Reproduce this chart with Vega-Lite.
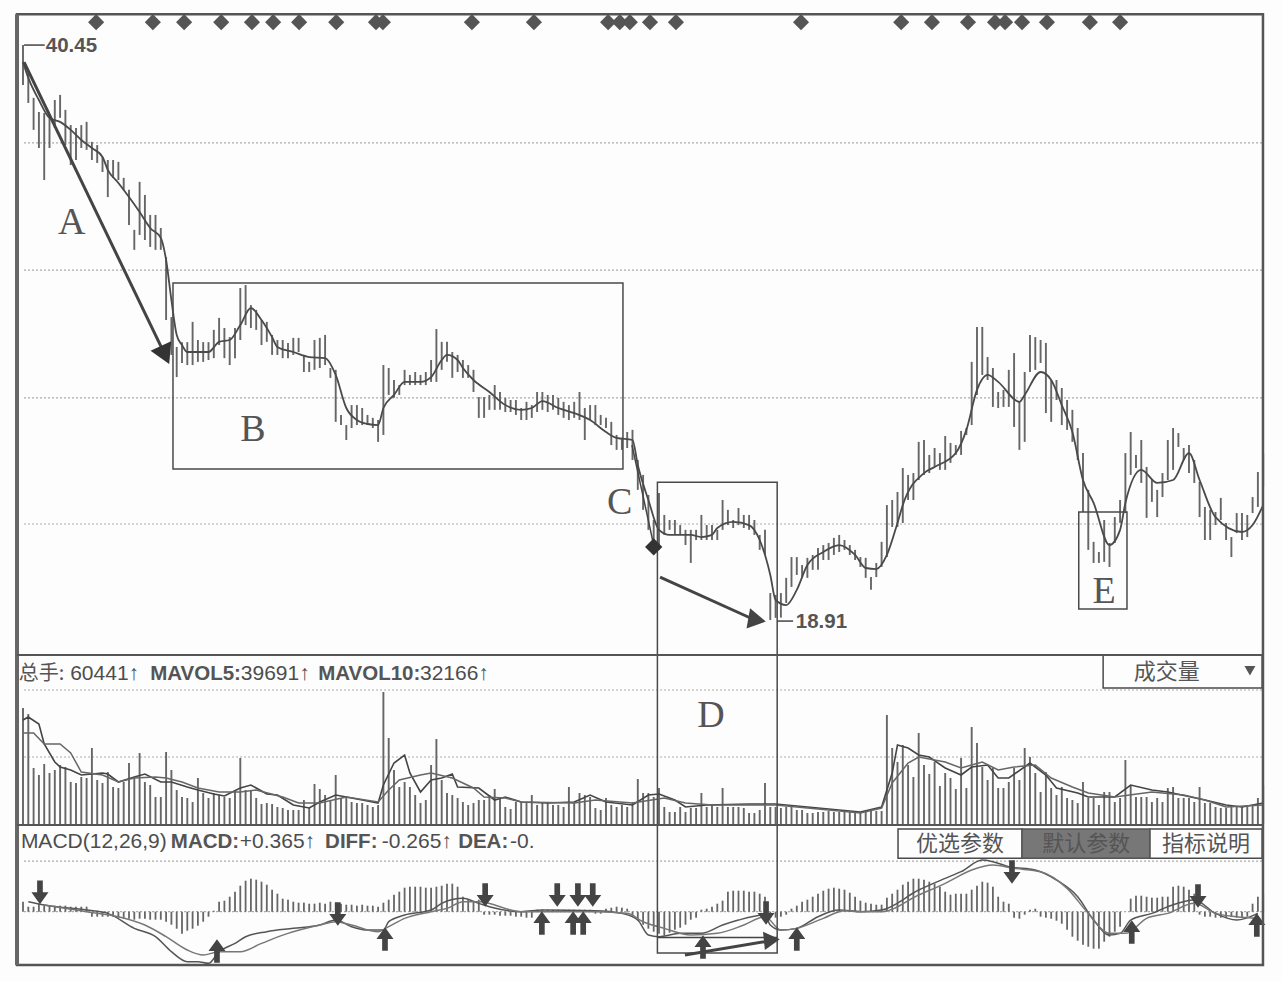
{"$schema":"https://vega.github.io/schema/vega-lite/v6.json","autosize":{"type":"fit","contains":"padding"},"padding":0,"width":1282,"height":982,"background":"#fdfdfd","config":{"view":{"stroke":null}},
"datasets":{
"bars":[
{"d":0,"h":40.45,"l":38.95,"v":232,"m":0.3},{"d":1,"h":39.44,"l":38.28,"v":220,"m":0.15},{"d":2,"h":38.47,"l":37.27,"v":112,"m":0.15},{"d":3,"h":37.94,"l":36.59,"v":98,"m":0.24},{"d":4,"h":37.9,"l":35.39,"v":120,"m":0.18},{"d":5,"h":37.72,"l":36.59,"v":102,"m":0.18},{"d":6,"h":38.39,"l":37.34,"v":108,"m":0.18},{"d":7,"h":38.58,"l":37.72,"v":118,"m":0.18},{"d":8,"h":38.02,"l":36.7,"v":114,"m":0.18},{"d":9,"h":37.45,"l":35.95,"v":84,"m":0.15},
{"d":10,"h":37.34,"l":36.14,"v":82,"m":0.15},{"d":11,"h":37.45,"l":36.59,"v":94,"m":0.15},{"d":12,"h":37.57,"l":36.52,"v":92,"m":0.15},{"d":13,"h":36.82,"l":36.14,"v":152,"m":-0.15},{"d":14,"h":36.7,"l":36.03,"v":88,"m":-0.15},{"d":15,"h":36.25,"l":35.69,"v":82,"m":-0.15},{"d":16,"h":36.14,"l":34.75,"v":104,"m":-0.15},{"d":17,"h":36.14,"l":35.47,"v":74,"m":-0.15},{"d":18,"h":36.07,"l":35.39,"v":72,"m":-0.18},{"d":19,"h":35.47,"l":35.02,"v":84,"m":-0.21},
{"d":20,"h":35.02,"l":33.7,"v":122,"m":-0.21},{"d":21,"h":33.52,"l":32.77,"v":94,"m":-0.24},{"d":22,"h":35.32,"l":33.33,"v":142,"m":-0.21},{"d":23,"h":34.83,"l":33.14,"v":84,"m":-0.21},{"d":24,"h":34.08,"l":32.88,"v":78,"m":-0.24},{"d":25,"h":34.08,"l":32.77,"v":54,"m":-0.24},{"d":26,"h":33.59,"l":32.77,"v":54,"m":-0.24},{"d":27,"h":32.5,"l":30.14,"v":144,"m":-0.3},{"d":28,"h":30.25,"l":28.83,"v":108,"m":-0.39},{"d":29,"h":29.13,"l":28.0,"v":68,"m":-0.51},
{"d":30,"h":29.31,"l":28.53,"v":54,"m":-0.66},{"d":31,"h":29.31,"l":28.45,"v":52,"m":-0.57},{"d":32,"h":30.07,"l":28.45,"v":44,"m":-0.51},{"d":33,"h":29.39,"l":28.57,"v":92,"m":-0.42},{"d":34,"h":29.31,"l":28.57,"v":62,"m":-0.3},{"d":35,"h":29.31,"l":28.64,"v":52,"m":-0.15},{"d":36,"h":29.77,"l":28.71,"v":62,"m":0.03},{"d":37,"h":30.22,"l":29.2,"v":58,"m":0.3},{"d":38,"h":29.84,"l":28.71,"v":54,"m":0.33},{"d":39,"h":29.5,"l":28.45,"v":52,"m":0.45},
{"d":40,"h":29.84,"l":28.71,"v":68,"m":0.6},{"d":41,"h":31.34,"l":29.39,"v":132,"m":0.78},{"d":42,"h":31.45,"l":29.95,"v":68,"m":0.93},{"d":43,"h":30.7,"l":29.84,"v":68,"m":0.99},{"d":44,"h":30.52,"l":29.77,"v":52,"m":0.96},{"d":45,"h":30.14,"l":29.2,"v":40,"m":0.9},{"d":46,"h":30.07,"l":29.32,"v":42,"m":0.81},{"d":47,"h":29.58,"l":28.83,"v":40,"m":0.66},{"d":48,"h":29.39,"l":28.83,"v":34,"m":0.54},{"d":49,"h":29.39,"l":28.71,"v":32,"m":0.39},
{"d":50,"h":29.28,"l":28.71,"v":28,"m":0.36},{"d":51,"h":29.47,"l":28.83,"v":28,"m":0.3},{"d":52,"h":29.47,"l":28.94,"v":28,"m":0.27},{"d":53,"h":28.83,"l":28.19,"v":48,"m":0.27},{"d":54,"h":28.57,"l":28.19,"v":32,"m":0.24},{"d":55,"h":29.39,"l":28.27,"v":80,"m":0.24},{"d":56,"h":29.47,"l":28.34,"v":70,"m":0.27},{"d":57,"h":29.58,"l":28.45,"v":58,"m":0.24},{"d":58,"h":28.34,"l":27.97,"v":48,"m":0.3},{"d":59,"h":28.27,"l":26.32,"v":98,"m":0.27},
{"d":60,"h":26.58,"l":26.2,"v":52,"m":0.24},{"d":61,"h":26.2,"l":25.64,"v":54,"m":0.21},{"d":62,"h":26.95,"l":26.09,"v":44,"m":0.21},{"d":63,"h":26.95,"l":26.2,"v":42,"m":0.18},{"d":64,"h":26.84,"l":26.2,"v":42,"m":0.21},{"d":65,"h":26.58,"l":26.2,"v":38,"m":0.18},{"d":66,"h":26.47,"l":26.09,"v":34,"m":0.18},{"d":67,"h":26.39,"l":25.57,"v":38,"m":0.15},{"d":68,"h":28.45,"l":25.83,"v":264,"m":0.27},{"d":69,"h":28.34,"l":27.33,"v":172,"m":0.36},
{"d":70,"h":27.89,"l":27.22,"v":108,"m":0.51},{"d":71,"h":27.7,"l":27.33,"v":74,"m":0.6},{"d":72,"h":28.27,"l":27.7,"v":84,"m":0.72},{"d":73,"h":28.08,"l":27.7,"v":74,"m":0.75},{"d":74,"h":28.19,"l":27.7,"v":58,"m":0.75},{"d":75,"h":28.08,"l":27.7,"v":42,"m":0.75},{"d":76,"h":28.19,"l":27.7,"v":48,"m":0.72},{"d":77,"h":28.64,"l":27.82,"v":118,"m":0.72},{"d":78,"h":29.8,"l":27.82,"v":170,"m":0.75},{"d":79,"h":29.32,"l":28.27,"v":88,"m":0.78},
{"d":80,"h":29.32,"l":28.57,"v":62,"m":0.84},{"d":81,"h":28.94,"l":27.97,"v":58,"m":0.84},{"d":82,"h":28.83,"l":28.19,"v":52,"m":0.75},{"d":83,"h":28.64,"l":27.97,"v":44,"m":0.45},{"d":84,"h":28.45,"l":27.97,"v":38,"m":0.36},{"d":85,"h":28.27,"l":27.44,"v":42,"m":0.33},{"d":86,"h":27.25,"l":26.47,"v":48,"m":0.36},{"d":87,"h":27.25,"l":26.47,"v":48,"m":-0.09},{"d":88,"h":27.33,"l":26.77,"v":58,"m":-0.09},{"d":89,"h":27.7,"l":26.77,"v":70,"m":-0.09},
{"d":90,"h":27.44,"l":26.77,"v":52,"m":-0.12},{"d":91,"h":27.22,"l":26.69,"v":34,"m":-0.12},{"d":92,"h":27.14,"l":26.69,"v":30,"m":-0.12},{"d":93,"h":27.14,"l":26.58,"v":44,"m":-0.15},{"d":94,"h":26.84,"l":26.39,"v":44,"m":-0.15},{"d":95,"h":27.07,"l":26.39,"v":42,"m":-0.18},{"d":96,"h":26.95,"l":26.47,"v":58,"m":-0.18},{"d":97,"h":27.44,"l":26.69,"v":38,"m":0.06},{"d":98,"h":27.44,"l":26.77,"v":42,"m":0.06},{"d":99,"h":27.33,"l":26.69,"v":42,"m":0.06},
{"d":100,"h":27.33,"l":26.77,"v":38,"m":0.06},{"d":101,"h":27.22,"l":26.58,"v":38,"m":0.06},{"d":102,"h":27.07,"l":26.47,"v":34,"m":0.06},{"d":103,"h":26.95,"l":26.39,"v":74,"m":0.06},{"d":104,"h":27.07,"l":26.47,"v":42,"m":0.06},{"d":105,"h":27.44,"l":26.39,"v":62,"m":0.06},{"d":106,"h":26.84,"l":25.64,"v":58,"m":0.06},{"d":107,"h":26.95,"l":26.39,"v":54,"m":0.06},{"d":108,"h":26.95,"l":26.2,"v":32,"m":-0.06},{"d":109,"h":26.58,"l":26.2,"v":28,"m":-0.06},
{"d":110,"h":26.47,"l":26.09,"v":52,"m":0.09},{"d":111,"h":26.32,"l":25.45,"v":38,"m":0.12},{"d":112,"h":25.83,"l":25.27,"v":34,"m":0.15},{"d":113,"h":25.72,"l":25.27,"v":38,"m":0.12},{"d":114,"h":25.94,"l":25.34,"v":34,"m":0.09},{"d":115,"h":26.02,"l":24.89,"v":44,"m":-0.15},{"d":116,"h":24.89,"l":23.77,"v":90,"m":-0.27},{"d":117,"h":24.33,"l":23.02,"v":62,"m":-0.39},{"d":118,"h":23.58,"l":22.27,"v":62,"m":-0.51},{"d":119,"h":22.64,"l":21.44,"v":54,"m":-0.6},
{"d":120,"h":23.65,"l":21.52,"v":72,"m":-0.66},{"d":121,"h":22.83,"l":22.08,"v":34,"m":-0.72},{"d":122,"h":22.64,"l":22.27,"v":24,"m":-0.63},{"d":123,"h":22.64,"l":22.08,"v":24,"m":-0.54},{"d":124,"h":22.45,"l":22.08,"v":34,"m":-0.48},{"d":125,"h":22.27,"l":21.7,"v":24,"m":-0.39},{"d":126,"h":22.27,"l":21.03,"v":32,"m":-0.24},{"d":127,"h":22.27,"l":21.89,"v":32,"m":-0.18},{"d":128,"h":22.83,"l":21.89,"v":62,"m":0.06},{"d":129,"h":22.45,"l":21.89,"v":34,"m":0.09},
{"d":130,"h":22.45,"l":21.89,"v":38,"m":0.15},{"d":131,"h":22.27,"l":21.89,"v":34,"m":0.24},{"d":132,"h":23.39,"l":22.27,"v":72,"m":0.33},{"d":133,"h":23.02,"l":22.45,"v":34,"m":0.6},{"d":134,"h":22.64,"l":22.34,"v":34,"m":0.63},{"d":135,"h":23.09,"l":22.45,"v":34,"m":0.63},{"d":136,"h":22.83,"l":22.34,"v":32,"m":0.63},{"d":137,"h":22.83,"l":22.27,"v":22,"m":0.6},{"d":138,"h":22.64,"l":22.08,"v":22,"m":0.6},{"d":139,"h":22.08,"l":21.52,"v":28,"m":0.54},
{"d":140,"h":22.27,"l":21.33,"v":82,"m":0.45},{"d":141,"h":19.9,"l":18.89,"v":34,"m":-0.18},{"d":142,"h":19.83,"l":18.97,"v":34,"m":-0.18},{"d":143,"h":19.9,"l":18.98,"v":32,"m":-0.15},{"d":144,"h":20.47,"l":19.53,"v":34,"m":-0.09},{"d":145,"h":21.25,"l":20.13,"v":34,"m":0.09},{"d":146,"h":21.25,"l":20.58,"v":28,"m":0.18},{"d":147,"h":20.95,"l":20.47,"v":28,"m":0.3},{"d":148,"h":21.22,"l":20.47,"v":22,"m":0.36},{"d":149,"h":21.33,"l":20.77,"v":22,"m":0.45},
{"d":150,"h":21.59,"l":20.77,"v":24,"m":0.54},{"d":151,"h":21.7,"l":21.14,"v":24,"m":0.63},{"d":152,"h":21.78,"l":21.14,"v":26,"m":0.69},{"d":153,"h":21.97,"l":21.33,"v":24,"m":0.72},{"d":154,"h":22.08,"l":21.44,"v":24,"m":0.69},{"d":155,"h":21.89,"l":21.52,"v":26,"m":0.66},{"d":156,"h":21.7,"l":21.33,"v":24,"m":0.57},{"d":157,"h":21.52,"l":21.14,"v":24,"m":0.45},{"d":158,"h":21.25,"l":20.88,"v":24,"m":0.33},{"d":159,"h":21.22,"l":20.47,"v":24,"m":0.27},
{"d":160,"h":20.5,"l":20.02,"v":26,"m":0.24},{"d":161,"h":21.03,"l":20.5,"v":26,"m":0.21},{"d":162,"h":21.82,"l":20.88,"v":26,"m":0.21},{"d":163,"h":23.2,"l":21.25,"v":218,"m":0.42},{"d":164,"h":23.39,"l":22.38,"v":152,"m":0.54},{"d":165,"h":23.69,"l":22.38,"v":124,"m":0.66},{"d":166,"h":24.59,"l":22.53,"v":158,"m":0.81},{"d":167,"h":24.33,"l":23.39,"v":118,"m":0.9},{"d":168,"h":24.4,"l":23.39,"v":94,"m":0.99},{"d":169,"h":25.57,"l":24.14,"v":182,"m":0.99},
{"d":170,"h":25.64,"l":24.33,"v":118,"m":0.96},{"d":171,"h":25.08,"l":24.4,"v":100,"m":0.9},{"d":172,"h":25.34,"l":24.63,"v":124,"m":0.84},{"d":173,"h":25.15,"l":24.52,"v":76,"m":0.75},{"d":174,"h":25.79,"l":24.52,"v":102,"m":0.6},{"d":175,"h":25.53,"l":24.78,"v":92,"m":0.51},{"d":176,"h":25.45,"l":25.08,"v":70,"m":0.54},{"d":177,"h":25.98,"l":25.08,"v":132,"m":0.54},{"d":178,"h":26.09,"l":25.83,"v":72,"m":0.54},{"d":179,"h":28.57,"l":26.2,"v":194,"m":0.66},
{"d":180,"h":29.88,"l":27.33,"v":162,"m":0.78},{"d":181,"h":29.88,"l":28.08,"v":114,"m":0.9},{"d":182,"h":28.75,"l":27.89,"v":88,"m":0.87},{"d":183,"h":28.34,"l":26.88,"v":112,"m":0.75},{"d":184,"h":27.44,"l":26.84,"v":72,"m":0.45},{"d":185,"h":27.52,"l":26.88,"v":72,"m":0.3},{"d":186,"h":28.27,"l":26.88,"v":84,"m":0.24},{"d":187,"h":28.9,"l":26.13,"v":112,"m":-0.18},{"d":188,"h":27.07,"l":25.27,"v":88,"m":-0.21},{"d":189,"h":28.19,"l":25.57,"v":152,"m":-0.09},
{"d":190,"h":29.58,"l":28.19,"v":134,"m":0.06},{"d":191,"h":29.5,"l":28.27,"v":102,"m":0.09},{"d":192,"h":29.39,"l":28.53,"v":64,"m":-0.15},{"d":193,"h":29.28,"l":26.65,"v":104,"m":-0.18},{"d":194,"h":27.89,"l":26.32,"v":72,"m":-0.21},{"d":195,"h":27.89,"l":27.14,"v":58,"m":-0.27},{"d":196,"h":27.59,"l":26.2,"v":74,"m":-0.36},{"d":197,"h":27.14,"l":26.02,"v":52,"m":-0.54},{"d":198,"h":26.77,"l":25.57,"v":48,"m":-0.75},{"d":199,"h":26.09,"l":24.89,"v":42,"m":-0.87},
{"d":200,"h":25.15,"l":22.94,"v":84,"m":-0.99},{"d":201,"h":23.77,"l":21.52,"v":52,"m":-1.05},{"d":202,"h":21.82,"l":21.03,"v":52,"m":-1.11},{"d":203,"h":21.44,"l":21.03,"v":38,"m":-1.11},{"d":204,"h":22.64,"l":21.07,"v":64,"m":-0.9},{"d":205,"h":21.78,"l":20.88,"v":64,"m":-0.75},{"d":206,"h":22.75,"l":21.78,"v":44,"m":-0.6},{"d":207,"h":23.39,"l":22.53,"v":52,"m":-0.45},{"d":208,"h":25.15,"l":22.9,"v":128,"m":0.0},{"d":209,"h":25.94,"l":24.33,"v":78,"m":0.39},
{"d":210,"h":25.08,"l":24.59,"v":54,"m":0.48},{"d":211,"h":25.64,"l":24.03,"v":54,"m":0.48},{"d":212,"h":24.63,"l":22.72,"v":54,"m":0.45},{"d":213,"h":24.14,"l":23.32,"v":44,"m":0.42},{"d":214,"h":23.77,"l":22.75,"v":52,"m":0.42},{"d":215,"h":24.4,"l":23.5,"v":44,"m":0.45},{"d":216,"h":25.64,"l":24.14,"v":72,"m":0.45},{"d":217,"h":26.09,"l":24.52,"v":74,"m":0.75},{"d":218,"h":25.9,"l":25.38,"v":52,"m":0.78},{"d":219,"h":25.34,"l":24.89,"v":52,"m":0.75},
{"d":220,"h":25.45,"l":24.4,"v":52,"m":0.66},{"d":221,"h":24.89,"l":24.03,"v":44,"m":0.54},{"d":222,"h":24.07,"l":22.75,"v":74,"m":-0.09},{"d":223,"h":23.13,"l":21.89,"v":42,"m":-0.15},{"d":224,"h":23.02,"l":21.89,"v":42,"m":-0.15},{"d":225,"h":22.94,"l":22.45,"v":34,"m":-0.18},{"d":226,"h":23.47,"l":22.64,"v":32,"m":-0.18},{"d":227,"h":22.53,"l":21.89,"v":32,"m":-0.18},{"d":228,"h":22.0,"l":21.25,"v":34,"m":-0.15},{"d":229,"h":22.9,"l":22.15,"v":34,"m":-0.18},
{"d":230,"h":22.9,"l":21.89,"v":34,"m":-0.18},{"d":231,"h":22.83,"l":22.0,"v":34,"m":-0.15},{"d":232,"h":23.5,"l":22.9,"v":38,"m":0.24},{"d":233,"h":24.44,"l":23.13,"v":52,"m":0.45},{"d":234,"h":25.15,"l":23.88,"v":78,"m":0.54}],
"ma":[{"d":0,"p":39.81},{"d":1,"p":39.22},{"d":3,"p":38.39},{"d":5,"p":37.72},{"d":7,"p":37.57},{"d":9,"p":37.27},{"d":11,"p":36.89},{"d":13,"p":36.59},{"d":15,"p":36.25},{"d":16,"p":35.77},{"d":18,"p":35.28},{"d":20,"p":34.75},{"d":22,"p":34.19},{"d":24,"p":33.59},{"d":26,"p":33.22},{"d":27,"p":32.39},{"d":28,"p":30.89},{"d":29,"p":29.58},{"d":30,"p":29.2},{"d":31,"p":28.94},{"d":33,"p":28.94},{"d":35,"p":28.94},{"d":37,"p":29.32},{"d":39,"p":29.39},{"d":41,"p":29.95},{"d":43,"p":30.59},{"d":45,"p":30.14},{"d":47,"p":29.5},{"d":48,"p":29.13},{"d":51,"p":28.94},{"d":54,"p":28.75},{"d":57,"p":28.71},{"d":59,"p":28.08},{"d":61,"p":26.84},{"d":63,"p":26.39},{"d":65,"p":26.24},{"d":67,"p":26.2},{"d":68,"p":26.84},{"d":70,"p":27.33},{"d":72,"p":27.82},{"d":75,"p":27.82},{"d":77,"p":28.0},{"d":79,"p":28.64},{"d":80,"p":28.83},{"d":82,"p":28.64},{"d":83,"p":28.34},{"d":85,"p":27.89},{"d":88,"p":27.44},{"d":91,"p":26.95},{"d":94,"p":26.77},{"d":96,"p":26.84},{"d":98,"p":27.1},{"d":101,"p":26.84},{"d":104,"p":26.65},{"d":107,"p":26.39},{"d":110,"p":25.94},{"d":112,"p":25.72},{"d":115,"p":25.64},{"d":116,"p":24.7},{"d":118,"p":23.39},{"d":120,"p":22.27},{"d":122,"p":22.08},{"d":126,"p":22.08},{"d":128,"p":22.0},{"d":130,"p":22.08},{"d":131,"p":22.34},{"d":134,"p":22.57},{"d":137,"p":22.45},{"d":139,"p":21.89},{"d":141,"p":20.58},{"d":142,"p":19.64},{"d":144,"p":19.45},{"d":146,"p":20.02},{"d":148,"p":20.95},{"d":151,"p":21.44},{"d":154,"p":21.7},{"d":157,"p":21.33},{"d":159,"p":20.84},{"d":161,"p":20.8},{"d":163,"p":21.33},{"d":165,"p":22.53},{"d":166,"p":23.2},{"d":170,"p":24.4},{"d":172,"p":24.63},{"d":176,"p":25.15},{"d":178,"p":26.02},{"d":180,"p":27.52},{"d":182,"p":28.08},{"d":184,"p":27.82},{"d":188,"p":27.07},{"d":189,"p":27.33},{"d":192,"p":28.19},{"d":194,"p":27.89},{"d":196,"p":26.95},{"d":198,"p":25.94},{"d":200,"p":24.14},{"d":202,"p":23.28},{"d":205,"p":21.7},{"d":207,"p":22.27},{"d":208,"p":23.28},{"d":211,"p":24.52},{"d":214,"p":24.03},{"d":217,"p":24.14},{"d":220,"p":25.15},{"d":222,"p":24.14},{"d":225,"p":22.75},{"d":230,"p":22.19},{"d":232,"p":22.45},{"d":234,"p":23.2}],
"vol5":[{"d":0,"v":208},{"d":1,"v":214},{"d":3,"v":200},{"d":4,"v":160},{"d":6,"v":124},{"d":7,"v":114},{"d":9,"v":108},{"d":11,"v":98},{"d":15,"v":102},{"d":16,"v":100},{"d":18,"v":84},{"d":21,"v":94},{"d":23,"v":100},{"d":26,"v":84},{"d":28,"v":84},{"d":31,"v":74},{"d":33,"v":68},{"d":36,"v":60},{"d":38,"v":56},{"d":41,"v":72},{"d":43,"v":78},{"d":46,"v":60},{"d":48,"v":58},{"d":51,"v":38},{"d":54,"v":32},{"d":56,"v":44},{"d":59,"v":58},{"d":61,"v":54},{"d":64,"v":48},{"d":67,"v":42},{"d":68,"v":78},{"d":70,"v":122},{"d":72,"v":138},{"d":73,"v":102},{"d":75,"v":64},{"d":77,"v":88},{"d":79,"v":92},{"d":81,"v":100},{"d":82,"v":74},{"d":86,"v":72},{"d":89,"v":48},{"d":91,"v":54},{"d":94,"v":44},{"d":99,"v":42},{"d":104,"v":44},{"d":107,"v":58},{"d":110,"v":44},{"d":115,"v":38},{"d":118,"v":58},{"d":120,"v":60},{"d":123,"v":48},{"d":125,"v":34},{"d":129,"v":38},{"d":137,"v":40},{"d":142,"v":40},{"d":148,"v":34},{"d":158,"v":24},{"d":162,"v":34},{"d":164,"v":102},{"d":165,"v":158},{"d":167,"v":152},{"d":169,"v":138},{"d":171,"v":134},{"d":174,"v":112},{"d":177,"v":98},{"d":179,"v":114},{"d":182,"v":118},{"d":184,"v":92},{"d":186,"v":92},{"d":190,"v":122},{"d":193,"v":98},{"d":195,"v":72},{"d":199,"v":62},{"d":201,"v":54},{"d":206,"v":54},{"d":209,"v":78},{"d":213,"v":68},{"d":216,"v":64},{"d":223,"v":48},{"d":227,"v":38},{"d":230,"v":34},{"d":234,"v":42}],
"vol10":[{"d":0,"v":182},{"d":2,"v":182},{"d":4,"v":160},{"d":7,"v":160},{"d":9,"v":142},{"d":11,"v":104},{"d":15,"v":98},{"d":18,"v":84},{"d":21,"v":92},{"d":25,"v":94},{"d":27,"v":92},{"d":30,"v":84},{"d":33,"v":72},{"d":37,"v":64},{"d":41,"v":64},{"d":44,"v":68},{"d":49,"v":54},{"d":52,"v":42},{"d":56,"v":42},{"d":61,"v":54},{"d":67,"v":44},{"d":69,"v":68},{"d":71,"v":88},{"d":75,"v":98},{"d":77,"v":102},{"d":81,"v":92},{"d":85,"v":72},{"d":87,"v":54},{"d":91,"v":52},{"d":94,"v":44},{"d":104,"v":42},{"d":108,"v":48},{"d":115,"v":42},{"d":121,"v":52},{"d":125,"v":42},{"d":130,"v":38},{"d":142,"v":38},{"d":148,"v":32},{"d":158,"v":22},{"d":162,"v":32},{"d":164,"v":82},{"d":167,"v":122},{"d":169,"v":134},{"d":174,"v":124},{"d":177,"v":112},{"d":181,"v":124},{"d":184,"v":108},{"d":187,"v":114},{"d":191,"v":118},{"d":194,"v":92},{"d":198,"v":74},{"d":201,"v":62},{"d":206,"v":54},{"d":213,"v":64},{"d":219,"v":58},{"d":223,"v":48},{"d":227,"v":34},{"d":234,"v":38}],
"diff":[{"d":1,"m":0.3},{"d":4,"m":0.2},{"d":12,"m":0.05},{"d":16,"m":-0.05},{"d":21,"m":-0.5},{"d":25,"m":-0.75},{"d":28,"m":-1.2},{"d":31,"m":-1.5},{"d":33,"m":-1.5},{"d":35,"m":-1.55},{"d":37,"m":-1.2},{"d":40,"m":-0.95},{"d":42,"m":-0.75},{"d":46,"m":-0.6},{"d":51,"m":-0.5},{"d":56,"m":-0.4},{"d":59,"m":-0.25},{"d":62,"m":-0.45},{"d":65,"m":-0.55},{"d":68,"m":-0.55},{"d":69,"m":-0.3},{"d":72,"m":-0.1},{"d":77,"m":0.05},{"d":79,"m":0.25},{"d":83,"m":0.4},{"d":86,"m":0.25},{"d":88,"m":0.15},{"d":94,"m":0},{"d":98,"m":0.05},{"d":108,"m":0.03},{"d":113,"m":-0.05},{"d":116,"m":-0.25},{"d":118,"m":-0.7},{"d":120,"m":-0.75},{"d":124,"m":-0.65},{"d":128,"m":-0.65},{"d":132,"m":-0.4},{"d":135,"m":-0.25},{"d":140,"m":-0.1},{"d":141,"m":-0.4},{"d":143,"m":-0.55},{"d":146,"m":-0.5},{"d":150,"m":-0.15},{"d":154,"m":0.05},{"d":158,"m":0},{"d":162,"m":0.05},{"d":169,"m":0.65},{"d":174,"m":1.0},{"d":177,"m":1.2},{"d":181,"m":1.55},{"d":183,"m":1.5},{"d":186,"m":1.35},{"d":191,"m":1.25},{"d":195,"m":0.95},{"d":199,"m":0.45},{"d":202,"m":-0.25},{"d":205,"m":-0.7},{"d":207,"m":-0.65},{"d":209,"m":-0.25},{"d":213,"m":-0.05},{"d":216,"m":0.15},{"d":221,"m":0.35},{"d":225,"m":-0.05},{"d":229,"m":-0.25},{"d":233,"m":-0.05}],
"dea":[{"d":4,"m":0.2},{"d":12,"m":0},{"d":18,"m":-0.15},{"d":23,"m":-0.4},{"d":27,"m":-0.75},{"d":31,"m":-1.15},{"d":34,"m":-1.3},{"d":37,"m":-1.2},{"d":41,"m":-1.2},{"d":45,"m":-0.95},{"d":50,"m":-0.65},{"d":56,"m":-0.4},{"d":59,"m":-0.3},{"d":62,"m":-0.4},{"d":67,"m":-0.6},{"d":69,"m":-0.45},{"d":72,"m":-0.2},{"d":77,"m":0},{"d":80,"m":0.1},{"d":83,"m":0.3},{"d":86,"m":0.3},{"d":94,"m":0},{"d":108,"m":0},{"d":114,"m":-0.05},{"d":117,"m":-0.3},{"d":121,"m":-0.5},{"d":126,"m":-0.7},{"d":131,"m":-0.65},{"d":136,"m":-0.4},{"d":140,"m":-0.15},{"d":143,"m":-0.55},{"d":146,"m":-0.5},{"d":151,"m":-0.2},{"d":155,"m":0.03},{"d":158,"m":0},{"d":162,"m":0},{"d":169,"m":0.5},{"d":174,"m":0.85},{"d":179,"m":1.25},{"d":183,"m":1.4},{"d":187,"m":1.3},{"d":192,"m":1.2},{"d":197,"m":0.7},{"d":201,"m":-0.05},{"d":205,"m":-0.65},{"d":208,"m":-0.65},{"d":212,"m":-0.2},{"d":216,"m":-0.05},{"d":221,"m":0.25},{"d":225,"m":-0.05},{"d":229,"m":-0.15},{"d":233,"m":-0.2}],
"signalsDown":[{"d":3.2,"m":0.58},{"d":59.4,"m":-0.07},{"d":87.2,"m":0.5},{"d":100.8,"m":0.5},{"d":104.7,"m":0.5},{"d":107.5,"m":0.5},{"d":140.2,"m":-0.04},{"d":186.6,"m":1.19},{"d":221.7,"m":0.47}],
"signalsUp":[{"d":36.6,"m":-1.18},{"d":68.3,"m":-0.82},{"d":97.9,"m":-0.34},{"d":103.8,"m":-0.34},{"d":105.7,"m":-0.34},{"d":128.3,"m":-1.06},{"d":146,"m":-0.82},{"d":209.2,"m":-0.61},{"d":232.8,"m":-0.4}],
"diamonds":[{"d":13.8},{"d":24.5},{"d":30.4},{"d":37.4},{"d":43.2},{"d":47.2},{"d":52.1},{"d":59.1},{"d":66.6},{"d":67.9},{"d":84.7},{"d":96.4},{"d":110.4},{"d":112.6},{"d":114.5},{"d":118.3},{"d":123.2},{"d":146.8},{"d":165.7},{"d":171.5},{"d":178.3},{"d":183.4},{"d":185.3},{"d":188.5},{"d":193.2},{"d":201.3},{"d":207}],
"boxes":[{"d":28.3,"d2":113.2,"p":31.53,"p2":24.55},{"d":119.7,"d2":142.3,"p":24.06,"p2":6.4},{"d":199.2,"d2":208.3,"p":22.94,"p2":19.3},{"d":203.8,"d2":233.8,"p":17.58,"p2":16.34},{"d":165.1,"d2":188.5,"p":11.05,"p2":9.96},{"d":212.6,"d2":233.8,"p":11.05,"p2":9.96}],
"segments":[{"d":0.2,"d2":4.1,"p":40.45,"p2":40.45},{"d":142.3,"d2":145.3,"p":18.85,"p2":18.85},{"d":119.7,"d2":142.3,"p":6.98,"p2":6.98},{"d":114.9,"d2":119,"p":25.45,"p2":21.7}],
"arrows":[{"d":0.2,"d2":26.8,"p":39.81,"p2":28.83},{"d":120.2,"d2":138.1,"p":20.5,"p2":18.89},{"d":124.9,"d2":141.9,"p":6.33,"p2":6.89}],
"letters":[{"d":9.2,"p":33.78,"t":"A"},{"d":43.4,"p":26.02,"t":"B"},{"d":112.6,"p":23.28,"t":"C"},{"d":129.8,"p":15.29,"t":"D"},{"d":204,"p":19.94,"t":"E"}],
"plain":[{"d":8.9,"p":16.87,"t":"60441↑"},{"d":41.1,"p":16.87,"t":"39691↑"},{"d":74.9,"p":16.87,"t":"32166↑"},{"d":-0.4,"p":10.57,"t":"MACD(12,26,9)"},{"d":40.9,"p":10.57,"t":"+0.365↑"},{"d":67.7,"p":10.57,"t":"-0.265↑"},{"d":91.9,"p":10.57,"t":"-0."}],
"bold":[{"d":24,"p":16.87,"t":"MAVOL5:"},{"d":55.7,"p":16.87,"t":"MAVOL10:"},{"d":27.9,"p":10.57,"t":"MACD:"},{"d":57,"p":10.57,"t":"DIFF:"},{"d":82.1,"p":10.57,"t":"DEA:"},{"d":4.3,"p":40.41,"t":"40.45"},{"d":145.8,"p":18.81,"t":"18.91"}],
"cjk":[{"d":176.8,"p":10.49,"t":"优选参数"},{"d":200.6,"p":10.49,"t":"默认参数"},{"d":223.2,"p":10.49,"t":"指标说明"},{"d":215.8,"p":16.94,"t":"成交量"}]
},
"encoding":{"x":{"field":"d","type":"quantitative","scale":{"domain":[-4.34,237.55]},"axis":null}},
"layer":[
{"data":{"values":[{"d":0.2,"d2":233.8,"g":36.78},{"d":0.2,"d2":233.8,"g":32.01},{"d":0.2,"d2":233.8,"g":27.22},{"d":0.2,"d2":233.8,"g":22.49}]},"mark":{"type":"rule","color":"#aaa","strokeWidth":1.2,"strokeDash":[2,2]},"encoding":{"x2":{"field":"d2"},"y":{"field":"g","type":"quantitative","scale":{"domain":[5.315,42.14]},"axis":null}}},
{"data":{"values":[{"d":0.2,"d2":233.8,"g":268},{"d":0.2,"d2":233.8,"g":134}]},"mark":{"type":"rule","color":"#aaa","strokeWidth":1.2,"strokeDash":[2,2]},"encoding":{"x2":{"field":"d2"},"y":{"field":"g","type":"quantitative","scale":{"domain":[-316,1648]},"axis":null}}},
{"data":{"values":[{"d":0.2,"d2":233.8,"g":1.52},{"d":0.2,"d2":233.8,"g":0}]},"mark":{"type":"rule","color":"#aaa","strokeWidth":1.2,"strokeDash":[2,2]},"encoding":{"x2":{"field":"d2"},"y":{"field":"g","type":"quantitative","scale":{"domain":[-2.109,27.35]},"axis":null}}},
{"data":{"name":"bars"},"mark":{"type":"rule","color":"#666","strokeWidth":1.9},"encoding":{"y":{"field":"h","type":"quantitative","scale":{"domain":[5.315,42.14]},"axis":null},"y2":{"field":"l"}}},
{"data":{"name":"bars"},"mark":{"type":"rule","color":"#666","strokeWidth":1.9},"encoding":{"y":{"field":"v","type":"quantitative","scale":{"domain":[-316,1648]},"axis":null},"y2":{"datum":0}}},
{"data":{"name":"bars"},"mark":{"type":"rule","color":"#666","strokeWidth":1.8},"encoding":{"y":{"field":"m","type":"quantitative","scale":{"domain":[-2.109,27.35]},"axis":null},"y2":{"datum":0}}},
{"data":{"name":"ma"},"mark":{"type":"line","color":"#4a4a4a","strokeWidth":1.8,"interpolate":"monotone"},"encoding":{"y":{"field":"p","type":"quantitative","scale":{"domain":[5.315,42.14]},"axis":null}}},
{"data":{"name":"vol5"},"mark":{"type":"line","color":"#444","strokeWidth":1.6},"encoding":{"y":{"field":"v","type":"quantitative","scale":{"domain":[-316,1648]},"axis":null}}},
{"data":{"name":"vol10"},"mark":{"type":"line","color":"#666","strokeWidth":1.5},"encoding":{"y":{"field":"v","type":"quantitative","scale":{"domain":[-316,1648]},"axis":null}}},
{"data":{"name":"diff"},"mark":{"type":"line","color":"#555","strokeWidth":1.5,"interpolate":"monotone"},"encoding":{"y":{"field":"m","type":"quantitative","scale":{"domain":[-2.109,27.35]},"axis":null}}},
{"data":{"name":"dea"},"mark":{"type":"line","color":"#777","strokeWidth":1.5,"interpolate":"monotone"},"encoding":{"y":{"field":"m","type":"quantitative","scale":{"domain":[-2.109,27.35]},"axis":null}}},
{"data":{"name":"signalsDown"},"mark":{"type":"point","filled":true,"opacity":1,"color":"#444","size":560,"shape":"M-0.24,-1L0.24,-1L0.24,0L0.72,0L0,1L-0.72,0L-0.24,0Z"},"encoding":{"y":{"field":"m","type":"quantitative","scale":{"domain":[-2.109,27.35]},"axis":null}}},
{"data":{"name":"signalsUp"},"mark":{"type":"point","filled":true,"opacity":1,"color":"#444","size":560,"shape":"M-0.24,1L0.24,1L0.24,0L0.72,0L0,-1L-0.72,0L-0.24,0Z"},"encoding":{"y":{"field":"m","type":"quantitative","scale":{"domain":[-2.109,27.35]},"axis":null}}},
{"data":{"name":"diamonds"},"mark":{"type":"point","filled":true,"opacity":1,"color":"#555","shape":"diamond","size":260},"encoding":{"y":{"datum":41.31,"type":"quantitative","scale":{"domain":[5.315,42.14]},"axis":null}}},
{"data":{"name":"boxes"},"mark":{"type":"rect","fill":null,"stroke":"#4a4a4a","strokeWidth":1.5},"encoding":{"x2":{"field":"d2"},"y":{"field":"p","type":"quantitative","scale":{"domain":[5.315,42.14]},"axis":null},"y2":{"field":"p2"}}},
{"data":{"values":[{"d":188.5,"d2":212.6,"p":11.05,"p2":9.96}]},"mark":{"type":"rect","fill":"#777","stroke":"#555","strokeWidth":1.5},"encoding":{"x2":{"field":"d2"},"y":{"field":"p","type":"quantitative","scale":{"domain":[5.315,42.14]},"axis":null},"y2":{"field":"p2"}}},
{"data":{"values":[{"d":-1.13,"d2":233.96,"p":41.61,"p2":5.95}]},"mark":{"type":"rect","fill":null,"stroke":"#555","strokeWidth":2.5},"encoding":{"x2":{"field":"d2"},"y":{"field":"p","type":"quantitative","scale":{"domain":[5.315,42.14]},"axis":null},"y2":{"field":"p2"}}},
{"data":{"values":[{"d":-1.13,"p":41.61,"p2":5.95}]},"mark":{"type":"rule","color":"#666","strokeWidth":4},"encoding":{"y":{"field":"p","type":"quantitative","scale":{"domain":[5.315,42.14]},"axis":null},"y2":{"field":"p2"}}},
{"data":{"values":[{"d":-1.13,"d2":233.96,"p":17.58},{"d":-1.13,"d2":233.96,"p":11.2}]},"mark":{"type":"rule","color":"#555","strokeWidth":2},"encoding":{"x2":{"field":"d2"},"y":{"field":"p","type":"quantitative","scale":{"domain":[5.315,42.14]},"axis":null}}},
{"data":{"name":"segments"},"mark":{"type":"rule","color":"#444","strokeWidth":1.5},"encoding":{"x2":{"field":"d2"},"y":{"field":"p","type":"quantitative","scale":{"domain":[5.315,42.14]},"axis":null},"y2":{"field":"p2"}}},
{"data":{"name":"arrows"},"mark":{"type":"rule","color":"#444","strokeWidth":3},"encoding":{"x2":{"field":"d2"},"y":{"field":"p","type":"quantitative","scale":{"domain":[5.315,42.14]},"axis":null},"y2":{"field":"p2"}}},
{"data":{"values":[{"d":26.8,"p":28.83}]},"mark":{"type":"point","filled":true,"opacity":1,"color":"#333","shape":"triangle-down","size":520,"angle":-25},"encoding":{"y":{"field":"p","type":"quantitative","scale":{"domain":[5.315,42.14]},"axis":null}}},
{"data":{"values":[{"d":138.5,"p":18.89}]},"mark":{"type":"point","filled":true,"opacity":1,"color":"#444","shape":"triangle-right","size":420,"angle":10},"encoding":{"y":{"field":"p","type":"quantitative","scale":{"domain":[5.315,42.14]},"axis":null}}},
{"data":{"values":[{"d":141.3,"p":6.89}]},"mark":{"type":"point","filled":true,"opacity":1,"color":"#444","shape":"triangle-right","size":340,"angle":-6},"encoding":{"y":{"field":"p","type":"quantitative","scale":{"domain":[5.315,42.14]},"axis":null}}},
{"data":{"values":[{"d":119,"p":21.63}]},"mark":{"type":"point","filled":true,"opacity":1,"color":"#333","shape":"diamond","size":300},"encoding":{"y":{"field":"p","type":"quantitative","scale":{"domain":[5.315,42.14]},"axis":null}}},
{"data":{"name":"letters"},"mark":{"type":"text","font":"Liberation Serif","fontSize":38,"color":"#555","align":"center","baseline":"middle"},"encoding":{"text":{"field":"t"},"y":{"field":"p","type":"quantitative","scale":{"domain":[5.315,42.14]},"axis":null}}},
{"data":{"name":"plain"},"mark":{"type":"text","font":"Liberation Sans","fontSize":21,"color":"#4d4d4d","align":"left","baseline":"middle"},"encoding":{"text":{"field":"t"},"y":{"field":"p","type":"quantitative","scale":{"domain":[5.315,42.14]},"axis":null}}},
{"data":{"name":"bold"},"mark":{"type":"text","font":"Liberation Sans","fontSize":20.5,"fontWeight":"bold","color":"#555","align":"left","baseline":"middle"},"encoding":{"text":{"field":"t"},"y":{"field":"p","type":"quantitative","scale":{"domain":[5.315,42.14]},"axis":null}}},
{"data":{"values":[{"d":-0.8,"p":16.87,"t":"总手:"}]},"mark":{"type":"text","font":"Noto Sans CJK SC","fontSize":20,"color":"#555","align":"left","baseline":"middle"},"encoding":{"text":{"field":"t"},"y":{"field":"p","type":"quantitative","scale":{"domain":[5.315,42.14]},"axis":null}}},
{"data":{"name":"cjk"},"mark":{"type":"text","font":"Noto Sans CJK SC","fontSize":22,"color":"#555","align":"center","baseline":"middle"},"encoding":{"text":{"field":"t"},"y":{"field":"p","type":"quantitative","scale":{"domain":[5.315,42.14]},"axis":null}}},
{"data":{"values":[{"d":231.5,"p":16.99}]},"mark":{"type":"point","filled":true,"opacity":1,"color":"#555","shape":"triangle-down","size":120},"encoding":{"y":{"field":"p","type":"quantitative","scale":{"domain":[5.315,42.14]},"axis":null}}}
],
"resolve":{"scale":{"y":"independent"}}}
